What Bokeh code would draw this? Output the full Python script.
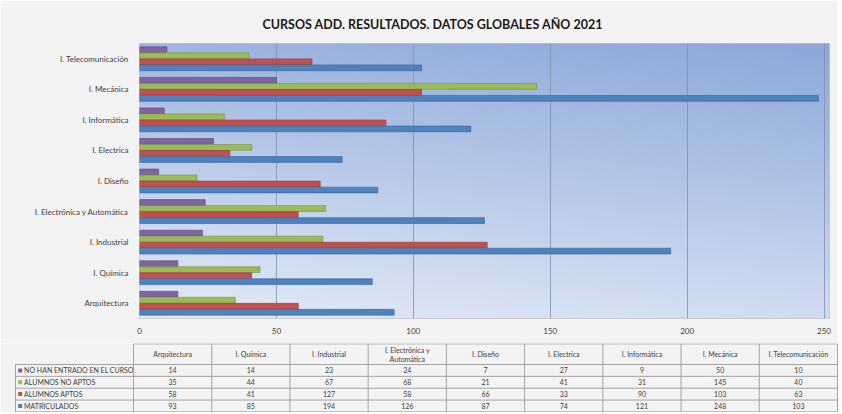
import numpy as np
import textwrap
from bokeh.plotting import figure
from bokeh.layouts import column, row
from bokeh.models import ColumnDataSource, Range1d, FactorRange, FixedTicker
from bokeh.transform import dodge
from bokeh.core.properties import value
from bokeh.embed import file_html
from bokeh.resources import INLINE

# ---------------- data ----------------
categories = ["Arquitectura", "I. Química", "I. Industrial", "I. Electrónica y Automática",
              "I. Diseño", "I. Electrica", "I. Informática", "I. Mecánica", "I. Telecomunicación"]
series_names = ["NO HAN ENTRADO EN EL CURSO", "ALUMNOS NO APTOS", "ALUMNOS APTOS", "MATRICULADOS"]
no_han_entrado = [14, 14, 23, 24, 7, 27, 9, 50, 10]
alumnos_no_aptos = [35, 44, 67, 68, 21, 41, 31, 145, 40]
alumnos_aptos = [58, 41, 127, 58, 66, 33, 90, 103, 63]
matriculados = [93, 85, 194, 126, 87, 74, 121, 248, 103]
x_ticks = [0, 50, 100, 150, 200, 250]
title_text = "CURSOS ADD. RESULTADOS. DATOS GLOBALES AÑO 2021"

series_values = [no_han_entrado, alumnos_no_aptos, alumnos_aptos, matriculados]
colors = ["#8064A2", "#9BBB59", "#C0504D", "#4F81BD"]
edges = ["#5c4578", "#76903f", "#943a37", "#36619a"]

FONT = "Lato"
BG = "#f3f3f3"
W = 838
H_CHART = 343
H_TABLE = 69
X_END = 252

# ---------------- chart ----------------
p = figure(width=W, height=H_CHART, y_range=FactorRange(factors=categories),
           x_range=Range1d(0, X_END), output_backend="svg", toolbar_location=None,
           min_border_left=139, min_border_right=9, min_border_top=43, min_border_bottom=25,
           border_fill_color=BG, background_fill_color="#c8d6ee")

# gradient plot-area background
ny, nx = 138, 345
yy, xx = np.mgrid[0:ny, 0:nx]
d = 0.78 * (yy / (ny - 1)) + 0.22 * (xx / (nx - 1))
light = np.array([0xe4, 0xeb, 0xf7], dtype=float)
dark = np.array([0x8c, 0xa7, 0xd9], dtype=float)
rgb = light + (dark - light) * d[..., None]
img = np.empty((ny, nx), dtype=np.uint32)
view = img.view(dtype=np.uint8).reshape((ny, nx, 4))
view[..., 0] = rgb[..., 0].astype(np.uint8)
view[..., 1] = rgb[..., 1].astype(np.uint8)
view[..., 2] = rgb[..., 2].astype(np.uint8)
view[..., 3] = 255
p.image_rgba(image=[img], x=0, y=0, dw=X_END, dh=len(categories), level="image")

src = ColumnDataSource(dict(cat=categories, **{f"s{i}": v for i, v in enumerate(series_values)}))
step = 0.197
bar_h = 0.19
offsets = [1.5 * step, 0.5 * step, -0.5 * step, -1.5 * step]
for i in range(len(series_names)):
    p.hbar(y=dodge("cat", offsets[i], range=p.y_range), left=0, right=f"s{i}", height=bar_h,
           fill_color=colors[i], line_color=edges[i], line_width=0.6, source=src)

p.title.text = title_text
p.title.align = "left"
p.title.offset = 123
p.title.text_font = FONT
p.title.text_font_size = "12.5px"
p.title.text_font_style = "bold"
p.title.text_color = "#1a1a1a"
p.title.standoff = 23

p.xaxis.ticker = FixedTicker(ticks=x_ticks)
for ax in (p.xaxis, p.yaxis):
    ax.axis_line_color = None
    ax.major_tick_line_color = None
    ax.minor_tick_line_color = None
    ax.major_label_text_font = FONT
    ax.major_label_text_font_size = "8px"
    ax.major_label_text_color = "#404040"
p.xaxis.major_label_standoff = 3
p.yaxis.major_label_standoff = 5
p.xgrid.grid_line_color = "#7d90b0"
p.xgrid.grid_line_alpha = 0.8
p.ygrid.grid_line_color = None
p.outline_line_color = "#c4c4c4"

# ---------------- data table ----------------
ncat = len(categories)
nser = len(series_names)
unit = (837 - 133) / ncat
x0 = -133 / unit
x1 = ncat + 1 / unit
xl = -118 / unit
row_px = 11.5
hdr = -20 / row_px
t = figure(width=W, height=H_TABLE, x_range=Range1d(x0, x1),
           y_range=Range1d(nser + 0.05, hdr - 0.03),
           output_backend="svg", toolbar_location=None, min_border=0,
           x_axis_location=None, y_axis_location=None,
           border_fill_color=BG, background_fill_color=BG, outline_line_color=None)
t.grid.visible = False

gc = "#a3a3a3"
vx = list(range(ncat + 1))
t.segment(x0=vx, y0=[hdr] * len(vx), x1=vx, y1=[nser] * len(vx), line_color=gc, line_width=1)
t.segment(x0=[xl], y0=[0], x1=[xl], y1=[nser], line_color=gc, line_width=1)
hy = list(range(nser + 1))
t.segment(x0=[xl] * len(hy), y0=hy, x1=[ncat] * len(hy), y1=hy, line_color=gc, line_width=1)
t.segment(x0=[0], y0=[hdr], x1=[ncat], y1=[hdr], line_color=gc, line_width=1)

hdr_text = [textwrap.fill(c, 20) for c in categories]
t.text(x=[i + 0.5 for i in range(ncat)], y=[hdr / 2] * ncat, text=hdr_text,
       text_align="center", text_baseline="middle", text_font=value(FONT),
       text_font_size="7px", text_color="#404040", text_line_height=1.15)

for r, vals in enumerate(series_values):
    t.text(x=[i + 0.5 for i in range(ncat)], y=[r + 0.5] * ncat, text=[str(v) for v in vals],
           text_align="center", text_baseline="middle", text_font=value(FONT),
           text_font_size="7px", text_color="#404040")

t.scatter(x=[xl + 0.06] * nser, y=[r + 0.5 for r in range(nser)], marker="square", size=4,
          fill_color=colors, line_color=None)
t.text(x=[xl + 0.11] * nser, y=[r + 0.5 for r in range(nser)], text=series_names,
       text_align="left", text_baseline="middle", text_font=value(FONT),
       text_font_size="7px", text_color="#404040")

layout = column(p, row(t), spacing=0)
open("out.html", "w").write(file_html(layout, INLINE))
